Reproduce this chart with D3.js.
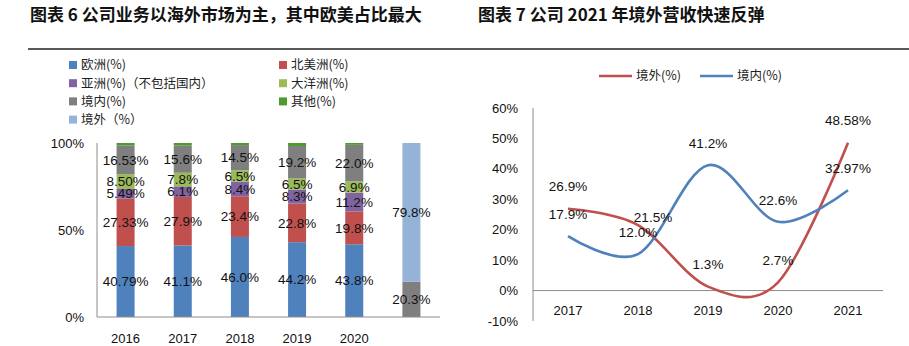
<!DOCTYPE html>
<html>
<head>
  <meta charset="utf-8">
  <title>海外市场占比与境内外营收增速</title>
  <script src="https://d3js.org/d3.v7.min.js"></script>
  <style>
    body { margin: 0; background: #fff; font-family: "Liberation Sans", Arial, "Noto Sans CJK SC", sans-serif; }
    .title { font-family: "Noto Sans CJK SC", sans-serif; font-weight: bold; font-size: 17px; fill: #111; }
    .num { font-family: "Liberation Sans", Arial, sans-serif; font-size: 13.5px; fill: #111; }
    .tick { font-family: "Liberation Sans", Arial, sans-serif; font-size: 13px; fill: #111; }
    .legend text { font-family: "Noto Sans CJK SC", sans-serif; font-size: 12.5px; fill: #222; }
  </style>
</head>
<body>
  <svg id="chart" width="909" height="346"></svg>

  <script>
    // left: regional revenue share by year (plus the 境内/境外 split)
    const years = ["2016", "2017", "2018", "2019", "2020", ""];
    const europe   = [40.79, 41.1, 46.0, 44.2, 43.8, 0];
    const nAmerica = [27.33, 27.9, 23.4, 22.8, 19.8, 0];
    const asia     = [5.49, 6.1, 8.4, 8.3, 11.2, 0];
    const oceania  = [8.50, 7.8, 6.5, 6.5, 6.9, 0];
    const domestic = [16.53, 15.6, 14.5, 19.2, 22.0, 20.3];
    const other    = [1.4, 1.5, 1.2, 1.8, 1.1, 0];
    const overseas = [0, 0, 0, 0, 0, 79.8];
    const decimals = [2, 1, 1, 1, 1, 1];
    const shareTicks = [0, 0.5, 1];

    // right: growth of overseas vs domestic revenue
    const growthYears = ["2017", "2018", "2019", "2020", "2021"];
    const overseasGrowth = [26.9, 21.5, 1.3, 2.7, 48.58];
    const domesticGrowth = [17.9, 12.0, 41.2, 22.6, 32.97];
    const growthTicks = [-10, 0, 10, 20, 30, 40, 50, 60];

    const svg = d3.select("#chart");

    // titles and the rule under them
    svg.append("text").attr("class", "title").attr("x", 30).attr("y", 21)
      .text("图表 6 公司业务以海外市场为主，其中欧美占比最大");
    svg.append("text").attr("class", "title").attr("x", 478).attr("y", 21)
      .text("图表 7  公司 2021 年境外营收快速反弹");
    svg.append("line").attr("x1", 28).attr("x2", 909).attr("y1", 49).attr("y2", 49)
      .attr("stroke", "#222").attr("stroke-width", 1.5);

    // ---------- stacked 100% columns ----------
    const series = [
      { key: "欧洲(%)", values: europe, color: "#4F81BD" },
      { key: "北美洲(%)", values: nAmerica, color: "#C0504D" },
      { key: "亚洲(%)（不包括国内）", values: asia, color: "#8064A2" },
      { key: "大洋洲(%)", values: oceania, color: "#9BBB59" },
      { key: "境内(%)", values: domestic, color: "#7F7F7F" },
      { key: "其他(%)", values: other, color: "#4E9A2F", noLabel: true },
      { key: "境外（%）", values: overseas, color: "#95B3D7" }
    ];

    const rows = years.map((y, i) => {
      const r = { year: y, i };
      series.forEach(s => r[s.key] = s.values[i]);
      return r;
    });

    const stack = d3.stack()
      .keys(series.map(s => s.key))
      .offset(d3.stackOffsetExpand);
    const stacked = stack(rows);

    const x = d3.scaleBand().domain(d3.range(years.length))
      .range([97, 440]).paddingInner(0.685).paddingOuter(0.3425);
    const y = d3.scaleLinear().domain([0, 1]).range([317, 143]);

    const left = svg.append("g");

    left.selectAll("g.layer")
      .data(stacked)
      .join("g")
      .attr("class", "layer")
      .attr("fill", (d, i) => series[i].color)
      .selectAll("rect")
      .data(d => d)
      .join("rect")
      .attr("x", d => x(d.data.i))
      .attr("width", x.bandwidth())
      .attr("y", d => y(d[1]))
      .attr("height", d => y(d[0]) - y(d[1]));

    // value labels in the middle of each segment
    stacked.forEach((layer, li) => {
      if (series[li].noLabel) return;
      left.append("g").selectAll("text")
        .data(layer.filter(d => d.data[series[li].key] > 0))
        .join("text")
        .attr("class", "num")
        .attr("x", d => x(d.data.i) + x.bandwidth() / 2)
        .attr("y", d => y((d[0] + d[1]) / 2))
        .attr("dy", "0.35em")
        .attr("text-anchor", "middle")
        .text(d => d.data[series[li].key].toFixed(decimals[d.data.i]) + "%");
    });

    // axes
    left.append("line").attr("x1", 97).attr("x2", 97).attr("y1", y(1)).attr("y2", y(0))
      .attr("stroke", "#8c8c8c");
    left.append("line").attr("x1", 97).attr("x2", 440).attr("y1", y(0)).attr("y2", y(0))
      .attr("stroke", "#8c8c8c");

    left.selectAll("text.ytick")
      .data(shareTicks)
      .join("text")
      .attr("class", "tick ytick")
      .attr("x", 84)
      .attr("y", d => y(d))
      .attr("dy", "0.35em")
      .attr("text-anchor", "end")
      .text(d => d3.format(".0%")(d));

    left.selectAll("text.xtick")
      .data(years)
      .join("text")
      .attr("class", "tick xtick")
      .attr("x", (d, i) => x(i) + x.bandwidth() / 2)
      .attr("y", 338)
      .attr("dy", "0.35em")
      .attr("text-anchor", "middle")
      .text(d => d);

    // legend, two columns
    const legend = svg.append("g").attr("class", "legend");
    series.forEach((s, k) => {
      const col = k % 2, row = Math.floor(k / 2);
      const lx = col === 0 ? 69 : 279;
      const ly = 65 + row * 18.2;
      legend.append("rect").attr("x", lx).attr("y", ly - 4).attr("width", 8).attr("height", 8)
        .attr("fill", s.color);
      legend.append("text").attr("x", lx + 12).attr("y", ly).attr("dy", "0.35em")
        .text(s.key);
    });

    // ---------- smoothed growth lines ----------
    const gx = d3.scalePoint().domain(growthYears).range([533, 883]).padding(0.5);
    const gy = d3.scaleLinear().domain([-10, 60]).range([321, 108]);

    const right = svg.append("g");

    right.append("line").attr("x1", 533).attr("x2", 533).attr("y1", gy(60)).attr("y2", gy(-10))
      .attr("stroke", "#8c8c8c");
    right.append("line").attr("x1", 533).attr("x2", 883).attr("y1", gy(0)).attr("y2", gy(0))
      .attr("stroke", "#8c8c8c");

    right.selectAll("text.ytick")
      .data(growthTicks)
      .join("text")
      .attr("class", "tick ytick")
      .attr("x", 518)
      .attr("y", d => gy(d))
      .attr("dy", "0.35em")
      .attr("text-anchor", "end")
      .text(d => d + "%");

    right.selectAll("text.xtick")
      .data(growthYears)
      .join("text")
      .attr("class", "tick xtick")
      .attr("x", d => gx(d))
      .attr("y", 310)
      .attr("dy", "0.35em")
      .attr("text-anchor", "middle")
      .text(d => d);

    const lines = [
      { name: "境外(%)", values: overseasGrowth, color: "#C0504D" },
      { name: "境内(%)", values: domesticGrowth, color: "#4F81BD" }
    ];

    const line = d3.line()
      .x((d, i) => gx(growthYears[i]))
      .y(d => gy(d))
      .curve(d3.curveCardinal.tension(0));

    right.selectAll("path.series")
      .data(lines)
      .join("path")
      .attr("class", "series")
      .attr("fill", "none")
      .attr("stroke", d => d.color)
      .attr("stroke-width", 2.6)
      .attr("d", d => line(d.values));

    // two decimals only where the value has them
    const pct = d => (Math.round(d * 100) % 10 ? d.toFixed(2) : d.toFixed(1)) + "%";

    // labels sit above each point; one is nudged to avoid the crossing
    const labelNudge = { "境外(%)|2018": [15, 14] };
    const nudge = (s, i) => labelNudge[s.name + "|" + growthYears[i]] || [0, 0];
    lines.forEach(s => {
      right.append("g").selectAll("text")
        .data(s.values)
        .join("text")
        .attr("class", "num")
        .attr("x", (d, i) => gx(growthYears[i]) + nudge(s, i)[0])
        .attr("y", (d, i) => gy(d) - 22 + nudge(s, i)[1])
        .attr("dy", "0.35em")
        .attr("text-anchor", "middle")
        .text(pct);
    });

    const rl = svg.append("g").attr("class", "legend");
    lines.forEach((s, i) => {
      const lx = 599 + i * 101;
      rl.append("line").attr("x1", lx).attr("x2", lx + 33).attr("y1", 76).attr("y2", 76)
        .attr("stroke", s.color).attr("stroke-width", 2.6);
      rl.append("text").attr("x", lx + 37).attr("y", 76).attr("dy", "0.35em").text(s.name);
    });
  </script>
</body>
</html>
